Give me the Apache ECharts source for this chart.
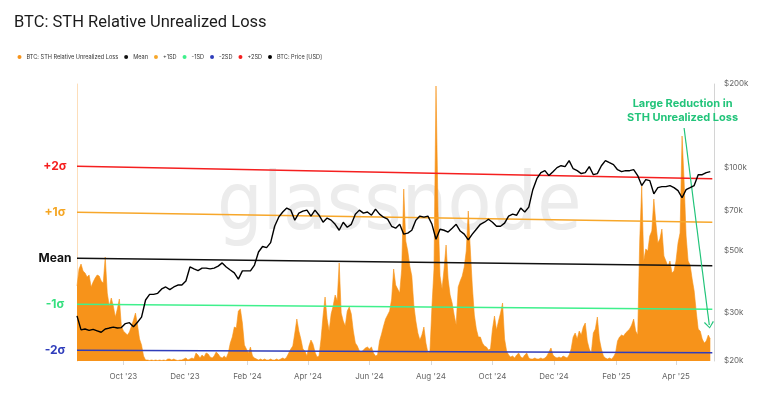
<!DOCTYPE html>
<html><head><meta charset="utf-8">
<script src="https://cdn.jsdelivr.net/npm/echarts@6.0.0/dist/echarts.min.js"></script>
<style>html,body{margin:0;padding:0;background:#fff}#c{width:771px;height:404px}</style>
</head><body><div id="c"></div>
<script>
// ---- data ----
const lossStart = '2023-08-16';
const lossStepDays = 2;
const lossValues = [
 7.5, 9.2, 9.7, 9.0, 8.8, 8.4, 8.6, 7.4, 7.9, 8.3,
 8.6, 8.5, 8.0, 7.8, 10.4, 6.8, 5.5, 6.3, 5.5, 4.4,
 5.2, 6.2, 3.5, 3.0, 2.8, 2.6, 2.9, 3.5, 4.1, 4.8,
 3.6, 2.2, 1.6, 0.5, 0.1, 0.1, 0.05, 0.1, 0.05, 0.1,
 0.05, 0.1, 0.05, 0.1, 0.05, 0.2, 0.2, 0.1, 0.2, 0.1,
 0.05, 0.1, 0.1, 0.2, 0.3, 0.1, 0.2, 0.3, 0.2, 0.8,
 0.6, 0.3, 0.6, 0.4, 0.8, 0.7, 0.4, 0.3, 0.5, 0.9,
 0.7, 0.4, 0.3, 0.5, 0.3, 0.8, 1.8, 2.4, 3.4, 3.3,
 5.0, 5.2, 3.8, 1.6, 1.2, 0.8, 1.4, 0.5, 0.3, 0.2,
 0.1, 0.2, 0.1, 0.2, 0.1, 0.1, 0.2, 0.1, 0.1, 0.2,
 0.1, 0.2, 0.3, 0.2, 0.4, 0.8, 1.2, 1.5, 2.8, 4.2,
 3.0, 2.2, 1.2, 1.0, 0.5, 1.5, 2.1, 1.7, 0.9, 0.4,
 0.5, 2.2, 4.5, 6.4, 4.2, 3.0, 4.7, 5.5, 6.6, 6.0,
 9.8, 4.8, 4.0, 3.5, 5.0, 5.4, 4.7, 3.0, 1.8, 1.5,
 1.0, 0.9, 1.1, 1.3, 1.4, 1.2, 1.4, 0.8, 0.5, 0.6,
 2.0, 2.7, 3.5, 4.2, 4.6, 5.0, 6.2, 9.2, 7.6, 7.2,
 6.8, 9.2, 17.2, 12.0, 11.0, 9.5, 8.5, 5.6, 4.0, 2.8,
 2.1, 2.6, 3.4, 1.8, 0.8, 1.0, 5.5, 9.2, 27.5, 15.0,
 8.5, 7.2, 9.2, 11.6, 8.2, 6.6, 5.8, 4.6, 3.6, 7.4,
 8.0, 8.5, 9.4, 11.0, 15.0, 11.2, 7.5, 4.6, 3.2, 2.4,
 2.4, 1.8, 1.5, 1.4, 1.1, 1.2, 3.2, 4.5, 3.1, 4.0,
 4.8, 5.8, 2.2, 1.0, 0.6, 0.4, 0.5, 0.3, 0.6, 0.8,
 0.4, 0.3, 0.6, 0.8, 0.3, 0.2, 0.2, 0.3, 0.2, 0.2,
 0.3, 0.2, 0.3, 0.5, 0.9, 1.3, 0.6, 0.4, 0.3, 0.4,
 0.3, 0.5, 0.4, 0.3, 0.6, 1.2, 2.4, 2.8, 2.2, 3.0,
 2.6, 3.4, 3.8, 2.0, 1.2, 0.8, 2.8, 3.2, 4.4, 2.2,
 1.2, 0.5, 0.3, 0.2, 0.3, 0.2, 0.4, 0.8, 2.0, 2.4,
 2.6, 2.5, 2.8, 3.0, 3.2, 3.6, 4.2, 3.0, 2.6, 12.0,
 17.5, 10.0, 11.2, 11.0, 12.5, 13.0, 16.2, 13.8, 11.8, 12.2,
 13.2, 10.5, 10.0, 9.5, 10.0, 8.8, 9.0, 10.0, 11.8, 12.8,
 22.5, 18.0, 12.5, 10.0, 9.6, 8.2, 7.0, 5.0, 3.2, 3.0,
 2.2, 1.8, 2.0, 2.6, 2.2
];

const priceStart = '2023-08-16';
const priceStepDays = 4;
const priceValues = [
 29100, 25900, 26100, 25800, 26000, 25700, 25400, 26100, 26300, 26500,
 26300, 26400, 27300, 27500, 26600, 27600, 28800, 33200, 34800, 34800,
 35100, 36400, 37000, 36200, 37000, 37600, 37600, 38900, 43700, 43000,
 42400, 43300, 43300, 43000, 43300, 44000, 45200, 43700, 42600, 41600,
 39500, 42300, 42300, 42300, 44400, 49500, 51800, 51300, 53500, 61300,
 66100, 69000, 71300, 70100, 64500, 68400, 69500, 70100, 66700, 70100,
 67200, 63400, 65600, 64500, 62300, 59300, 63400, 60800, 62300, 67800,
 70100, 68400, 69000, 67200, 70700, 67800, 66100, 65000, 61300, 60300,
 62300, 57400, 57900, 59300, 64500, 66700, 66100, 66700, 62300, 55000,
 59800, 59300, 58400, 60300, 62300, 58900, 57400, 54700, 57400, 59800,
 62300, 63400, 65000, 63400, 61300, 61300, 62900, 66700, 67800, 67200,
 71300, 69000, 71900, 83100, 91000, 95700, 97300, 93400, 96500, 99800,
 101400, 100600, 105800, 98900, 97300, 95000, 95700, 100600, 94100, 95000,
 101400, 105800, 104000, 102300, 98100, 96500, 97300, 97300, 98100, 93400,
 86000, 90300, 89600, 80300, 84500, 85200, 85200, 85900, 84500, 82400,
 77700, 83100, 84500, 86000, 94100, 94100, 95700, 96500
];

const bandDates = ['2023-08-16', '2025-05-07'];
const meanValues = [10.27, 9.53];
const sdValues = [4.6, 4.35];

const tickDates = ['2023-10-01','2023-12-01','2024-02-01','2024-04-01','2024-06-01','2024-08-01','2024-10-01','2024-12-01','2025-02-01','2025-04-01'];
const tickLabels = ["Oct '23","Dec '23","Feb '24","Apr '24","Jun '24","Aug '24","Oct '24","Dec '24","Feb '25","Apr '25"];
const priceTicks = [20000, 30000, 50000, 70000, 100000, 200000];

// ---- helpers ----
const DAY = 86400000;
const T = s => new Date((s.length === 10 ? s + 'T00:00:00' : s) + 'Z').getTime();
const series2 = (start, step, vals) => vals.map((v, i) => [T(start) + i * step * DAY, v]);
const tickTs = tickDates.map(T);
const tickMap = {}; tickTs.forEach((t, i) => tickMap[t] = tickLabels[i]);

const FONT = 'Inter, "Noto Sans", sans-serif';

function band(name, k, color, labelText, labelColor) {
  const t0 = T(bandDates[0]), t1 = T(bandDates[1]);
  return {
    name, type: 'line', yAxisIndex: 0, color,
    symbol: 'circle', symbolSize: 0, showSymbol: true,
    lineStyle: { color, width: 1.4 },
    z: 3,
    data: [
      { value: [t0, meanValues[0] + k * sdValues[0]],
        label: { show: true, formatter: labelText, position: [-22, 0], align: 'center', verticalAlign: 'middle',
                 color: labelColor, fontWeight: 'bold', fontSize: 12, fontFamily: FONT } },
      { value: [t1, meanValues[1] + k * sdValues[1]] }
    ]
  };
}

const chart = echarts.init(document.getElementById('c'), null, { renderer: 'canvas' });
chart.setOption({
  animation: false,
  backgroundColor: '#fff',
  textStyle: { fontFamily: FONT },
  title: {
    text: 'BTC: STH Relative Unrealized Loss', left: 9, top: 9,
    textStyle: { fontSize: 16.5, fontWeight: 'normal', color: '#1b1b1b', fontFamily: 'Roboto, Inter, sans-serif' }
  },
  legend: {
    left: 12.5, top: 49, icon: 'circle', itemWidth: 4, itemHeight: 4, itemGap: 6,
    textStyle: { fontSize: 5.6, color: '#333', fontFamily: FONT },
    data: ['BTC: STH Relative Unrealized Loss', 'Mean', '+1SD', '-1SD', '-2SD', '+2SD', 'BTC: Price [USD]']
  },
  grid: { left: 77, right: 57, top: 84, bottom: 43 },
  graphic: [{
    type: 'text', left: 217, top: 168, z: -10, silent: true,
    style: { text: 'glassnode', fontSize: 80, fontWeight: 500,
             fontFamily: '"Liberation Sans Narrow","DejaVu Sans Condensed",Inter,sans-serif', fill: '#ececec' }
  }],
  xAxis: {
    type: 'value', min: T('2023-08-16'), max: T('2025-05-08T16:00:00'),
    axisLine: { show: false },
    axisTick: { show: true, customValues: tickTs, length: 4, lineStyle: { color: '#d8d8d8' } },
    axisLabel: { customValues: tickTs, formatter: v => tickMap[v] || '', color: '#666', fontSize: 8, margin: 12, fontFamily: FONT },
    splitLine: { show: false }
  },
  yAxis: [
    { type: 'value', min: 0, max: 27.7, position: 'left',
      axisLine: { show: true, lineStyle: { color: 'rgba(247,147,26,0.3)', width: 1 } },
      axisTick: { show: false }, axisLabel: { show: false }, splitLine: { show: false } },
    { type: 'log', logBase: 10, min: 20000, max: 200000, position: 'right',
      axisLine: { show: true, lineStyle: { color: '#d4d4d4', width: 1 } },
      axisTick: { show: false },
      axisLabel: { customValues: priceTicks, formatter: v => '$' + Math.round(v / 1000) + 'k', color: '#666', fontSize: 8, margin: 10, fontFamily: FONT },
      splitLine: { show: false } }
  ],
  series: [
    {
      name: 'BTC: STH Relative Unrealized Loss', type: 'line', yAxisIndex: 0, color: '#f7931a',
      symbol: 'none', lineStyle: { width: 0.6, color: '#f7931a' },
      areaStyle: { color: '#f7931a', opacity: 1 }, z: 2,
      data: series2(lossStart, lossStepDays, lossValues),
      markLine: {
        silent: true, symbol: ['none', 'path://M5,0 L10,8 L9,9 L5,2 L1,9 L0,8 Z'], symbolSize: [10, 7],
        lineStyle: { color: '#22c47a', width: 1.2, type: 'solid' }, label: { show: false },
        data: [[{ coord: [T('2025-04-09'), 23.3] }, { coord: [T('2025-05-04'), 3.6] }]]
      },
      markPoint: {
        silent: true, symbol: 'circle', symbolSize: 0, itemStyle: { color: 'transparent' },
        label: { show: true, position: 'inside', formatter: 'Large Reduction in\nSTH Unrealized Loss',
                 color: '#22c47a', fontWeight: 'bold', fontSize: 11, lineHeight: 13.5, align: 'center', fontFamily: FONT },
        data: [{ coord: [T('2025-04-07T12:00:00'), 25.05] }]
      }
    },
    band('Mean', 0, '#111111', 'Mean', '#111111'),
    band('+1SD', 1, '#f7a72a', '+1σ', '#f5a623'),
    band('-1SD', -1, '#3ff08c', '-1σ', '#35e07f'),
    band('-2SD', -2, '#2f3dbb', '-2σ', '#2f3dbb'),
    band('+2SD', 2, '#f51f1f', '+2σ', '#f51f1f'),
    {
      name: 'BTC: Price [USD]', type: 'line', yAxisIndex: 1, color: '#000',
      symbol: 'none', lineStyle: { width: 1.4, color: '#000' }, z: 5,
      data: series2(priceStart, priceStepDays, priceValues)
    }
  ]
});
</script></body></html>
